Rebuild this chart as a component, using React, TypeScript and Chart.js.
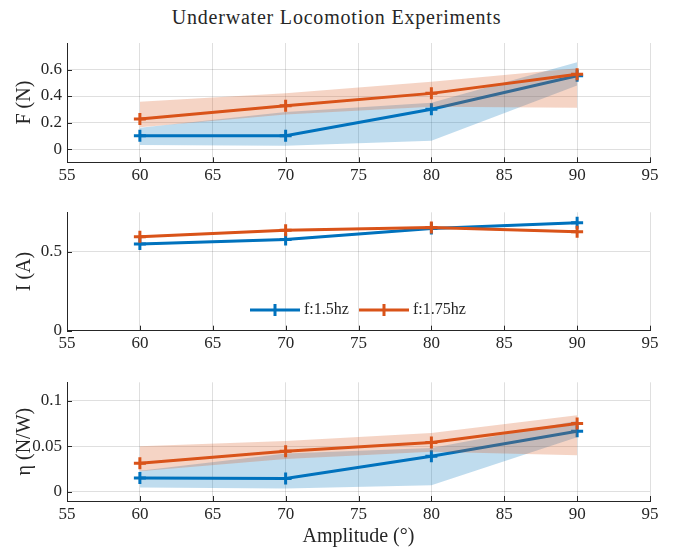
import React, { useEffect, useRef } from 'react';
import { Chart, registerables } from 'chart.js';

Chart.register(...registerables);

const amplitudes = [60, 70, 80, 90];
const xTickValues = [55, 60, 65, 70, 75, 80, 85, 90, 95];
const seriesLabels = ['f:1.5hz', 'f:1.75hz'];
const chartTitle = 'Underwater Locomotion Experiments';
const xAxisTitle = 'Amplitude (°)';

// Force
const forceF15 = [0.1, 0.1, 0.3, 0.553];
const forceF15Upper = [0.16, 0.28, 0.35, 0.655];
const forceF15Lower = [0.03, 0.025, 0.063, 0.48];
const forceF175 = [0.226, 0.327, 0.42, 0.564];
const forceF175Upper = [0.357, 0.42, 0.508, 0.61];
const forceF175Lower = [0.164, 0.26, 0.32, 0.312];
const forceTicks = [0, 0.2, 0.4, 0.6];

// Current
const currentF15 = [0.549, 0.578, 0.648, 0.684];
const currentF15Upper = [0.555, 0.584, 0.654, 0.69];
const currentF15Lower = [0.543, 0.572, 0.642, 0.678];
const currentF175 = [0.595, 0.637, 0.654, 0.627];
const currentF175Upper = [0.601, 0.643, 0.66, 0.633];
const currentF175Lower = [0.589, 0.631, 0.648, 0.621];
const currentTicks = [0, 0.5];

// Efficiency
const effF15 = [0.0153, 0.0146, 0.039, 0.0664];
const effF15Upper = [0.023, 0.042, 0.048, 0.078];
const effF15Lower = [0.0048, 0.0037, 0.0073, 0.0597];
const effF175 = [0.0314, 0.0445, 0.054, 0.0748];
const effF175Upper = [0.05, 0.0558, 0.0645, 0.084];
const effF175Lower = [0.0226, 0.036, 0.044, 0.04];
const effTicks = [0, 0.05, 0.1];

const BLUE = '#0072BD';
const ORANGE = '#D95319';
const BLUE_BAND = 'rgba(0,114,189,0.25)';
const ORANGE_BAND = 'rgba(217,83,25,0.25)';
const AXIS = '#262626';
const GRID = 'rgba(38,38,38,0.15)';
const FONT = 'Liberation Serif';

const pts = (arr: number[]) => amplitudes.map((x, i) => ({ x, y: arr[i] }));

const inwardTicks = {
  id: 'inwardTicks',
  afterDraw(chart: any) {
    const { ctx, chartArea, scales } = chart;
    ctx.save();
    ctx.strokeStyle = AXIS;
    ctx.lineWidth = 1;
    ctx.beginPath();
    scales.x.ticks.forEach((t: any) => {
      const px = Math.round(scales.x.getPixelForValue(t.value)) + 0.5;
      ctx.moveTo(px, chartArea.bottom);
      ctx.lineTo(px, chartArea.bottom - 5);
    });
    scales.y.ticks.forEach((t: any) => {
      const py = Math.round(scales.y.getPixelForValue(t.value)) + 0.5;
      ctx.moveTo(chartArea.left, py);
      ctx.lineTo(chartArea.left + 5, py);
    });
    ctx.stroke();
    ctx.restore();
  },
};

const legendPlugin = {
  id: 'innerLegend',
  afterDraw(chart: any) {
    const { ctx } = chart;
    const y = 110;
    const items = [
      { color: BLUE, x: 250, label: seriesLabels[0] },
      { color: ORANGE, x: 359, label: seriesLabels[1] },
    ];
    ctx.save();
    items.forEach((it) => {
      ctx.strokeStyle = it.color;
      ctx.lineWidth = 3;
      ctx.beginPath();
      ctx.moveTo(it.x, y);
      ctx.lineTo(it.x + 50, y);
      ctx.moveTo(it.x + 25, y - 6);
      ctx.lineTo(it.x + 25, y + 6);
      ctx.stroke();
      ctx.fillStyle = AXIS;
      ctx.font = `16px "${FONT}"`;
      ctx.textBaseline = 'middle';
      ctx.textAlign = 'left';
      ctx.fillText(it.label, it.x + 54, y);
    });
    ctx.restore();
  },
};

type PanelOpts = {
  f15: number[]; f15U: number[]; f15L: number[];
  f175: number[]; f175U: number[]; f175L: number[];
  yMin: number; yMax: number; yTicks: number[]; yTitle: string;
  padTop: number; xHeight: number; showXTitle: boolean; legend: boolean;
};

function makeConfig(o: PanelOpts): any {
  const line = (label: string, data: number[], color: string) => ({
    label,
    data: pts(data),
    borderColor: color,
    backgroundColor: color,
    borderWidth: 3,
    pointStyle: 'cross',
    pointRadius: 6,
    pointBorderWidth: 3,
    pointBorderColor: color,
    fill: false,
  });
  const band = (data: number[], fill: any, bg: string) => ({
    data: pts(data),
    borderColor: 'transparent',
    borderWidth: 0,
    pointRadius: 0,
    fill,
    backgroundColor: bg,
  });
  const plugins: any[] = [inwardTicks];
  if (o.legend) plugins.push(legendPlugin);
  return {
    type: 'line',
    data: {
      datasets: [
        line(seriesLabels[1], o.f175, ORANGE),
        band(o.f175U, 2, ORANGE_BAND),
        band(o.f175L, false, ORANGE_BAND),
        line(seriesLabels[0], o.f15, BLUE),
        band(o.f15U, 5, BLUE_BAND),
        band(o.f15L, false, BLUE_BAND),
      ],
    },
    plugins,
    options: {
      responsive: false,
      animation: false,
      devicePixelRatio: 1,
      layout: { padding: { top: o.padTop, right: 23, left: 0, bottom: 0 } },
      plugins: { legend: { display: false }, tooltip: { enabled: false }, title: { display: false } },
      scales: {
        x: {
          type: 'linear',
          min: 55,
          max: 95,
          afterBuildTicks: (s: any) => { s.ticks = xTickValues.map((v) => ({ value: v })); },
          afterFit: (s: any) => {
            s.height = o.xHeight;
            s.paddingLeft = 0; s.paddingRight = 0; s.paddingTop = 0; s.paddingBottom = 0;
          },
          ticks: {
            callback: (v: any) => String(v),
            font: { family: FONT, size: 17 },
            color: AXIS,
            padding: 3,
            maxRotation: 0,
            autoSkip: false,
          },
          grid: { color: GRID, drawTicks: false, lineWidth: 1 },
          border: { color: AXIS, width: 1 },
          title: {
            display: o.showXTitle,
            text: xAxisTitle,
            font: { family: FONT, size: 20 },
            color: AXIS,
            padding: { top: 0, bottom: 2 },
          },
        },
        y: {
          type: 'linear',
          min: o.yMin,
          max: o.yMax,
          afterBuildTicks: (s: any) => { s.ticks = o.yTicks.map((v) => ({ value: v })); },
          afterFit: (s: any) => {
            s.width = 67;
            s.paddingLeft = 0; s.paddingRight = 0; s.paddingTop = 0; s.paddingBottom = 0;
          },
          ticks: {
            callback: (v: any) => String(v),
            font: { family: FONT, size: 17 },
            color: AXIS,
            padding: 5,
          },
          grid: { color: GRID, drawTicks: false, lineWidth: 1 },
          border: { color: AXIS, width: 1 },
          title: {
            display: true,
            text: o.yTitle,
            font: { family: FONT, size: 20 },
            color: AXIS,
            padding: { top: 13, bottom: 0 },
          },
        },
      },
    },
  };
}

function Panel({ top, height, opts }: { top: number; height: number; opts: PanelOpts }) {
  const ref = useRef<HTMLCanvasElement | null>(null);
  useEffect(() => {
    if (!ref.current) return;
    const chart = new Chart(ref.current, makeConfig(opts));
    return () => chart.destroy();
  }, []);
  return (
    <canvas
      ref={ref}
      width={673}
      height={height}
      style={{ position: 'absolute', left: 0, top, width: 673, height, display: 'block' }}
    />
  );
}

export default function App() {
  useEffect(() => {
    document.body.style.margin = '0';
  }, []);
  return (
    <div style={{ position: 'relative', width: 673, height: 551, background: '#fff', overflow: 'hidden' }}>
      <div
        style={{
          position: 'absolute',
          left: 0,
          top: 4,
          width: 673,
          textAlign: 'center',
          fontFamily: FONT,
          fontSize: 20,
          letterSpacing: 0.8,
          color: AXIS,
          lineHeight: '26px',
        }}
      >
        {chartTitle}
      </div>
      <Panel
        top={30}
        height={170}
        opts={{
          f15: forceF15, f15U: forceF15Upper, f15L: forceF15Lower,
          f175: forceF175, f175U: forceF175Upper, f175L: forceF175Lower,
          yMin: -0.1, yMax: 0.8, yTicks: forceTicks, yTitle: 'F (N)',
          padTop: 13, xHeight: 37.7, showXTitle: false, legend: false,
        }}
      />
      <Panel
        top={200}
        height={170}
        opts={{
          f15: currentF15, f15U: currentF15Upper, f15L: currentF15Lower,
          f175: currentF175, f175U: currentF175Upper, f175L: currentF175Lower,
          yMin: 0, yMax: 0.75, yTicks: currentTicks, yTitle: 'I (A)',
          padTop: 12.3, xHeight: 39.3, showXTitle: false, legend: true,
        }}
      />
      <Panel
        top={370}
        height={181}
        opts={{
          f15: effF15, f15U: effF15Upper, f15L: effF15Lower,
          f175: effF175, f175U: effF175Upper, f175L: effF175Lower,
          yMin: -0.01, yMax: 0.12, yTicks: effTicks, yTitle: 'η (N/W)',
          padTop: 12.3, xHeight: 50, showXTitle: true, legend: false,
        }}
      />
    </div>
  );
}
